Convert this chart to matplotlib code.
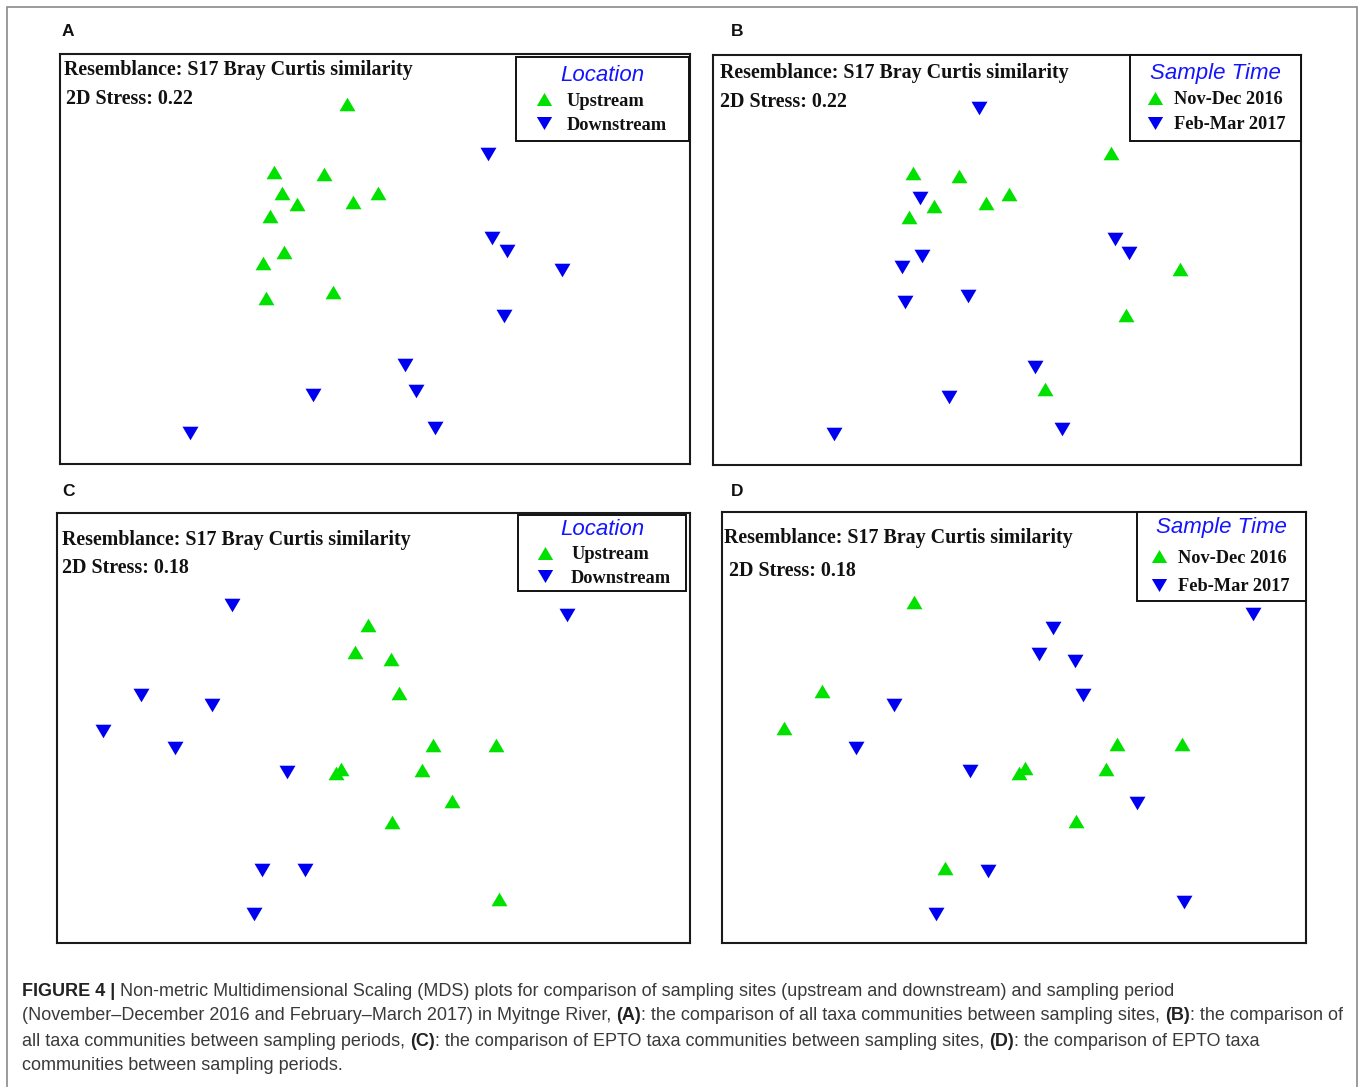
import matplotlib
matplotlib.use("Agg")
import matplotlib.pyplot as plt
import matplotlib.transforms as mtransforms
from matplotlib.lines import Line2D
from matplotlib.patches import Rectangle
from matplotlib.font_manager import FontProperties

# ------------------------------------------------------------------------------------------
# nMDS scores, scaled to each plot frame (0..1)

a_up_x = [0.455, 0.340, 0.419, 0.352, 0.505, 0.376, 0.465, 0.334, 0.356, 0.322, 0.327, 0.434]
a_up_y = [0.878, 0.712, 0.708, 0.661, 0.662, 0.633, 0.640, 0.606, 0.517, 0.490, 0.406, 0.420]
a_down_x = [0.679, 0.685, 0.710, 0.797, 0.704, 0.548, 0.565, 0.402, 0.595, 0.206]
a_down_y = [0.756, 0.551, 0.519, 0.474, 0.360, 0.241, 0.179, 0.168, 0.087, 0.076]

b_nov_x = [0.677, 0.340, 0.418, 0.504, 0.375, 0.464, 0.334, 0.795, 0.703, 0.565]
b_nov_y = [0.760, 0.713, 0.706, 0.660, 0.632, 0.638, 0.604, 0.477, 0.365, 0.185]
b_feb_x = [0.453, 0.352, 0.683, 0.708, 0.355, 0.321, 0.326, 0.434, 0.547, 0.401, 0.593, 0.206]
b_feb_y = [0.870, 0.652, 0.550, 0.516, 0.510, 0.482, 0.398, 0.413, 0.240, 0.167, 0.087, 0.076]

c_up_x = [0.492, 0.471, 0.527, 0.540, 0.594, 0.694, 0.448, 0.440, 0.576, 0.624, 0.529, 0.698]
c_up_y = [0.739, 0.677, 0.660, 0.582, 0.460, 0.460, 0.404, 0.396, 0.402, 0.330, 0.282, 0.102]
c_down_x = [0.276, 0.805, 0.133, 0.245, 0.073, 0.186, 0.363, 0.324, 0.392, 0.311]
c_down_y = [0.785, 0.763, 0.576, 0.553, 0.493, 0.454, 0.398, 0.169, 0.169, 0.068]

d_nov_x = [0.329, 0.172, 0.107, 0.677, 0.787, 0.518, 0.508, 0.658, 0.607, 0.381]
d_nov_y = [0.792, 0.585, 0.500, 0.461, 0.461, 0.405, 0.395, 0.403, 0.283, 0.175]
d_feb_x = [0.909, 0.566, 0.543, 0.604, 0.619, 0.294, 0.230, 0.425, 0.710, 0.456, 0.791, 0.367]
d_feb_y = [0.763, 0.732, 0.671, 0.654, 0.575, 0.552, 0.453, 0.398, 0.324, 0.168, 0.095, 0.067]

site_labels = ["Upstream", "Downstream"]
period_labels = ["Nov-Dec 2016", "Feb-Mar 2017"]
resemblance_text = "Resemblance: S17 Bray Curtis similarity"

caption_lines = [
    [("FIGURE 4 |", True),
     (" Non-metric Multidimensional Scaling (MDS) plots for comparison of sampling sites "
      "(upstream and downstream) and sampling period", False)],
    [("(November\u2013December 2016 and February\u2013March 2017) in Myitnge River, ", False),
     ("(A)", True), (": the comparison of all taxa communities between sampling sites, ", False),
     ("(B)", True), (": the comparison of", False)],
    [("all taxa communities between sampling periods, ", False), ("(C)", True),
     (": the comparison of EPTO taxa communities between sampling sites, ", False),
     ("(D)", True), (": the comparison of EPTO taxa", False)],
    [("communities between sampling periods.", False)],
]

# ------------------------------------------------------------------------------------------
GREEN = "#00e100"
BLUE = "#0000f0"
TITLE_BLUE = "#1414ff"
SERIF = "Liberation Serif"
SANS = "Liberation Sans"

UP = [(-1, -0.85), (1, -0.85), (0, 0.85), (-1, -0.85)]
DOWN = [(-1, 0.85), (1, 0.85), (0, -0.85), (-1, 0.85)]

FIG_W, FIG_H = 1360, 1087
fig = plt.figure(figsize=(FIG_W / 100, FIG_H / 100), dpi=100)
fig.patch.set_facecolor("white")


def px_rect(left, top, right, bottom):
    return [left / FIG_W, 1 - bottom / FIG_H, (right - left) / FIG_W, (bottom - top) / FIG_H]


def px_text(ax, dx, dy, s, **kw):
    tr = mtransforms.offset_copy(ax.transAxes, fig=fig, x=dx, y=-dy, units="dots")
    ax.text(0, 1, s, transform=tr, ha="left", va="center", **kw)


panels = [
    dict(rect=(60, 54, 690, 464), letter="A", letter_xy=(62, 32),
         g=(a_up_x, a_up_y), b=(a_down_x, a_down_y), stress="2D Stress: 0.22",
         res_off=(4, 16), stress_off=(6, 45), title="Location", labels=site_labels,
         leg_box=(516, 57, 689), pad=0.42, spacing=0.38, hlen=2.2, htp=0.12),
    dict(rect=(713, 55, 1301, 465), letter="B", letter_xy=(731, 32),
         g=(b_nov_x, b_nov_y), b=(b_feb_x, b_feb_y), stress="2D Stress: 0.22",
         res_off=(7, 18), stress_off=(7, 47), title="Sample Time", labels=period_labels,
         leg_box=(1130, 55, 1301), pad=0.42, spacing=0.42, hlen=1.9, htp=0.06),
    dict(rect=(57, 513, 690, 943), letter="C", letter_xy=(62, 491),
         g=(c_up_x, c_up_y), b=(c_down_x, c_down_y), stress="2D Stress: 0.18",
         res_off=(5, 27), stress_off=(5, 55), title="Location", labels=site_labels,
         leg_box=(518, 515, 686), pad=0.2, spacing=0.36, hlen=2.55, htp=0.15),
    dict(rect=(722, 512, 1306, 943), letter="D", letter_xy=(731, 492),
         g=(d_nov_x, d_nov_y), b=(d_feb_x, d_feb_y), stress="2D Stress: 0.18",
         res_off=(2, 26), stress_off=(7, 59), title="Sample Time", labels=period_labels,
         leg_box=(1137, 512, 1306), pad=0.3, spacing=0.62, hlen=1.85, htp=0.1),
]

for p in panels:
    left, top, right, bottom = p["rect"]
    ax = fig.add_axes(px_rect(*p["rect"]))
    ax.set_xlim(0, 1)
    ax.set_ylim(0, 1)
    ax.set_xticks([])
    ax.set_yticks([])
    for sp in ax.spines.values():
        sp.set_linewidth(1.5)
        sp.set_color("#1a1a1a")

    ax.plot(p["g"][0], p["g"][1], linestyle="none", marker=UP, markersize=11.5,
            color=GREEN, markeredgewidth=0)
    ax.plot(p["b"][0], p["b"][1], linestyle="none", marker=DOWN, markersize=11.5,
            color=BLUE, markeredgewidth=0)

    px_text(ax, *p["res_off"], resemblance_text, fontfamily=SERIF, fontweight="bold",
            fontsize=14.4, color="#111111")
    px_text(ax, *p["stress_off"], p["stress"], fontfamily=SERIF, fontweight="bold",
            fontsize=14.4, color="#111111")

    # legend box in the upper right corner
    bx0, btop, bx1 = p["leg_box"]
    w_ax = right - left
    h_ax = bottom - top
    handles = [Line2D([], [], linestyle="none", marker=UP, markersize=11, color=GREEN, markeredgewidth=0),
               Line2D([], [], linestyle="none", marker=DOWN, markersize=11, color=BLUE, markeredgewidth=0)]
    leg = ax.legend(handles, p["labels"], loc="upper left",
                    bbox_to_anchor=((bx0 - left) / w_ax, 0, (bx1 - bx0) / w_ax, (bottom - btop) / h_ax),
                    mode="expand", borderaxespad=0, fancybox=False, framealpha=1,
                    borderpad=p["pad"], labelspacing=p["spacing"], handlelength=p["hlen"],
                    handletextpad=p["htp"], handleheight=0.7,
                    prop=FontProperties(family=SERIF, weight="bold", size=13.2),
                    title=p["title"],
                    title_fontproperties=FontProperties(family=SANS, style="italic", size=16))
    leg.get_title().set_color(TITLE_BLUE)
    leg.get_frame().set_edgecolor("#111111")
    leg.get_frame().set_linewidth(1.4)
    for t in leg.get_texts():
        t.set_color("#111111")

    lx, ly = p["letter_xy"]
    fig.text(lx / FIG_W, 1 - ly / FIG_H, p["letter"], ha="left", va="center",
             fontfamily=SANS, fontweight="bold", fontsize=12.5, color="#111111")

# ------------------------------------------------------------------------------------------
# caption, drawn piece by piece so the bold parts sit inline
renderer = fig.canvas.get_renderer()


def text_w(s, prop):
    bar = renderer.get_text_width_height_descent("||", prop, ismath=False)[0]
    return renderer.get_text_width_height_descent("|" + s + "|", prop, ismath=False)[0] - bar


cap_size = 13.0
line2_w = sum(text_w(s, FontProperties(family=SANS, size=cap_size, weight="bold" if b else "normal"))
              for s, b in caption_lines[1])
cap_size = cap_size * 1318 / line2_w

cap_x0 = 22
cap_y0 = 991
cap_dy = 25
for i, line in enumerate(caption_lines):
    x = cap_x0
    y = cap_y0 + i * cap_dy
    for s, bold in line:
        prop = FontProperties(family=SANS, size=cap_size, weight="bold" if bold else "normal")
        lead = len(s) - len(s.lstrip(" "))
        body = s.strip(" ")
        sp_w = text_w(" ", prop)
        x += lead * sp_w
        fig.text(x / FIG_W, 1 - y / FIG_H, body, ha="left", va="center", fontproperties=prop,
                 color="#222222" if bold else "#3a3a3a")
        x += text_w(body, prop) + (len(s) - lead - len(body)) * sp_w

# thin grey frame round the whole figure
fig.add_artist(Rectangle((7 / FIG_W, -0.01), (1357 - 7) / FIG_W, 1 - 7 / FIG_H + 0.01,
                         transform=fig.transFigure, fill=False, edgecolor="#8a8a8a", linewidth=1.2))

fig.savefig("out.png", dpi=100, facecolor="white")
